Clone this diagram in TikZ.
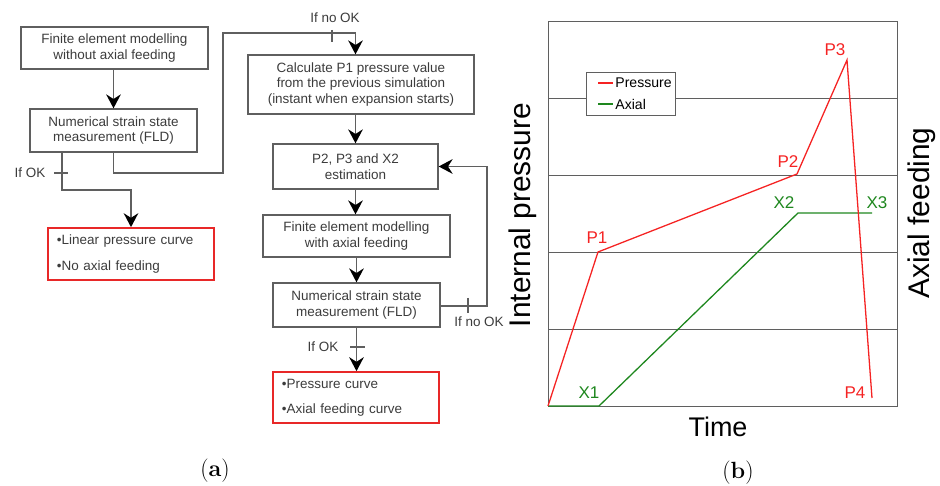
\documentclass[tikz,border=0pt]{standalone}
\usepackage{fontspec}
\newfontfamily\arialfont{Liberation Sans}
\usepackage{tikz}
\usetikzlibrary{arrows.meta}
\definecolor{linegray}{RGB}{95,95,95}
\definecolor{textgray}{RGB}{60,60,60}
\definecolor{boxred}{RGB}{232,40,40}
\definecolor{curvered}{RGB}{245,35,35}
\definecolor{curvegreen}{RGB}{30,135,30}

\tikzset{
  flowbox/.style={draw=linegray, line width=1.1pt, align=center, inner sep=0pt,
    text=textgray, font=\arialfont\fontsize{11.5}{13.5}\selectfont},
  redbox/.style={draw=boxred, line width=1.4pt, align=left, inner xsep=0.27cm,
    inner ysep=0pt, text=textgray, font=\arialfont\fontsize{11.5}{13.5}\selectfont},
  flowline/.style={draw=linegray, line width=1.2pt},
  flowarrow/.style={flowline, -{Stealth[length=4.2mm,width=4.4mm,inset=1.4mm,color=black]}},
  condlabel/.style={text=textgray, font=\arialfont\fontsize{11.5}{13.5}\selectfont},
  gridline/.style={draw=linegray, line width=0.8pt},
  ptlabel/.style={font=\arialfont\fontsize{14.5}{16}\selectfont},
  axislabel/.style={font=\arialfont\fontsize{25.5}{28}\selectfont},
  caption/.style={font=\fontsize{20}{22}\selectfont}
}

\begin{document}
\begin{tikzpicture}[x=0.03cm, y=-0.03cm]
    \useasboundingbox (0,0) rectangle (940,486);

    % (a) flow chart, left column
    \node[flowbox, minimum width=5.61cm, minimum height=1.26cm] (fem1) at (114.5,48)
        {Finite element modelling\\without axial feeding};
    \node[flowbox, minimum width=5.01cm, minimum height=1.29cm] (strain1) at (113.5,130.5)
        {Numerical strain state\\measurement (FLD)};
    \node[redbox, text width=4.44cm, minimum height=1.56cm] (linear) at (131,254)
        {•Linear pressure curve\\[8pt]•No axial feeding};

    % (a) flow chart, right column
    \node[flowbox, minimum width=6.78cm, minimum height=1.77cm] (calc) at (361,84.5)
        {Calculate P1 pressure value\\from the previous simulation\\(instant when expansion starts)};
    \node[flowbox, minimum width=4.95cm, minimum height=1.35cm] (est) at (355.5,166.5)
        {P2, P3 and X2\\estimation};
    \node[flowbox, minimum width=5.61cm, minimum height=1.26cm] (fem2) at (356.5,236)
        {Finite element modelling\\with axial feeding};
    \node[flowbox, minimum width=5.01cm, minimum height=1.32cm] (strain2) at (356.5,305)
        {Numerical strain state\\measurement (FLD)};
    \node[redbox, text width=4.44cm, minimum height=1.53cm] (result) at (356,397.5)
        {•Pressure curve\\[8pt]•Axial feeding curve};

    % connectors
    \coordinate (okbend) at (62,190);
    \coordinate (nobend) at (223,173);
    \coordinate (toploop) at (223,33);
    \coordinate (fbbend) at (487,306);
    \draw[flowarrow] (fem1.south -| strain1.north) -- (strain1.north);
    \draw[flowarrow] (strain1.south -| okbend) -- (okbend) -| (linear.north);
    \draw[flowarrow] (strain1.south) |- (nobend) -- (toploop) -| (calc.north -| est.north);
    \draw[flowarrow] (calc.south -| est.north) -- (est.north);
    \draw[flowarrow] (est.south) -- (fem2.north -| est.south);
    \draw[flowarrow] (fem2.south) -- (strain2.north);
    \draw[flowarrow] (strain2.east |- fbbend) -- (fbbend) |- (est.east);
    \draw[flowarrow] (strain2.south) -- (result.north -| strain2.south);

    % condition ticks and labels
    \draw[flowline] (54,173) -- (68,173);
    \node[condlabel] (okleft) at (30,173) {If OK};
    \draw[flowline] (332,30) -- (332,42);
    \node[condlabel] (notop) at (335,18) {If no OK};
    \draw[flowline] (468,298) -- (468,313);
    \node[condlabel] (noright) at (479,322) {If no OK};
    \draw[flowline] (350,347) -- (365,347);
    \node[condlabel] (okbottom) at (323,347) {If OK};

    % (b) chart frame and grid
    \draw[gridline] (548,21) rectangle (897,406);
    \foreach \y in {98,175,252,329}
        \draw[gridline] (548,\y) -- (897,\y);

    % curves
    \draw[curvegreen, line width=1.1pt] (548,406) -- (599,406) -- (798,213) -- (872,213);
    \draw[curvered, line width=1.1pt] (548,406) -- (598,252) -- (797,174) -- (847,60) -- (872,398);

    % point labels
    \node[ptlabel, curvered] (lp1) at (597,238) {P1};
    \node[ptlabel, curvered] (lp2) at (788,162) {P2};
    \node[ptlabel, curvered] (lp3) at (835,50) {P3};
    \node[ptlabel, curvered] (lp4) at (855,393) {P4};
    \node[ptlabel, curvegreen] (lx1) at (589,393) {X1};
    \node[ptlabel, curvegreen] (lx2) at (784,203) {X2};
    \node[ptlabel, curvegreen] (lx3) at (877,203) {X3};

    % legend
    \draw[gridline, fill=white] (586,72) rectangle (675,115);
    \draw[curvered, line width=1.1pt] (598,83) -- (613,83);
    \draw[curvegreen, line width=1.1pt] (598,104) -- (613,104);
    \node[anchor=west, inner sep=1pt, font=\arialfont\fontsize{12}{14}\selectfont] (legp) at (614,83) {Pressure};
    \node[anchor=west, inner sep=1pt, font=\arialfont\fontsize{12}{14}\selectfont] (lega) at (614,104) {Axial};

    % axis titles
    \node[axislabel, rotate=90] (ylab) at (523,215) {Internal pressure};
    \node[axislabel, rotate=90] (y2lab) at (922,213) {Axial feeding};
    \node[axislabel, font=\arialfont\fontsize{23}{26}\selectfont] (xlab) at (718,427) {Time};

    % captions
    \node[caption] (capa) at (215,471) {(\textbf{a})};
    \node[caption] (capb) at (738,473) {(\textbf{b})};
\end{tikzpicture}
\end{document}
